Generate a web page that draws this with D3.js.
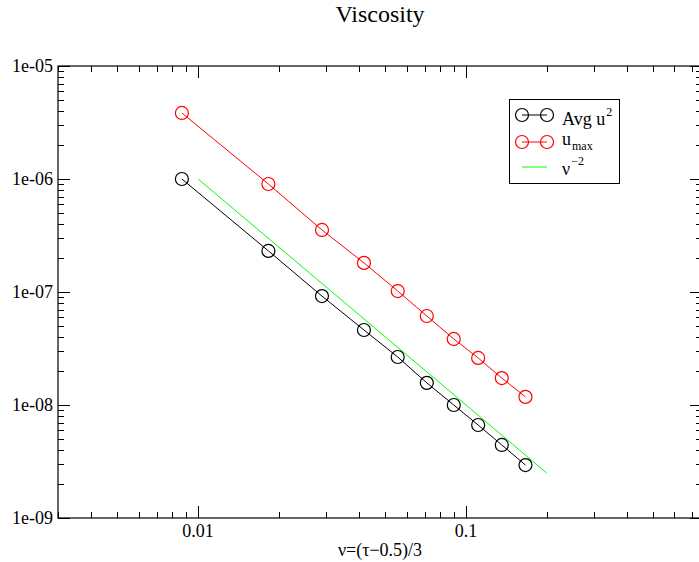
<!DOCTYPE html>
<html>
<head>
<meta charset="utf-8">
<script src="https://cdn.jsdelivr.net/npm/d3@7"></script>
<style>
    body { margin: 0; background: #fff; }
    text { font-family: "Liberation Serif", "DejaVu Serif", serif; fill: #000; }
</style>
</head>
<body>
<div id="chart"></div>
<script>
// data
var nu = [0.0087, 0.0183, 0.029, 0.0416, 0.0556, 0.0714, 0.09, 0.111, 0.136, 0.1667];
var avgU2 = [1.0e-6, 2.31e-7, 9.2e-8, 4.61e-8, 2.66e-8, 1.57e-8, 1.0e-8, 6.65e-9, 4.43e-9, 2.94e-9];
var uMax = [3.84e-6, 9.03e-7, 3.54e-7, 1.81e-7, 1.02e-7, 6.13e-8, 3.84e-8, 2.61e-8, 1.73e-8, 1.18e-8];
// reference slope nu^-2
var refNu = [0.01, 0.2];
var refVal = [1e-6, 2.5e-9];
var xTickLabels = ["0.01", "0.1"];
var yTickLabels = ["1e-09", "1e-08", "1e-07", "1e-06", "1e-05"];

var chart_width = 699;
var chart_height = 562;
// plot box (note: "top" is reserved on window, so use p-prefixed names)
var pLeft = 58, pRight = 702, pTop = 66, pBottom = 518;

var x = d3.scaleLog().domain([0.003, 0.76]).range([pLeft, pRight]);
var y = d3.scaleLog().domain([1e-9, 1e-5]).range([pBottom, pTop]);

var svg = d3.select("#chart")
        .append("svg")
        .attr("width", chart_width)
        .attr("height", chart_height);

//Frame
svg.append("rect")
        .attr("x", pLeft)
        .attr("y", pTop)
        .attr("width", pRight - pLeft)
        .attr("height", pBottom - pTop)
        .attr("fill", "none")
        .attr("stroke", "#000")
        .attr("stroke-width", 1.2);

function isMajor(v) {
    var l = Math.log10(v);
    return Math.abs(l - Math.round(l)) < 1e-6;
}

//Ticks, all pointing inward
var ticks = svg.append("g").attr("stroke", "#000").attr("stroke-width", 1);
x.ticks().filter(function (v) {
    return v >= 0.003 && v <= 0.76;
}).forEach(function (v) {
    var len = isMajor(v) ? 12 : 6;
    var px = Math.round(x(v)) + 0.5;
    ticks.append("line").attr("x1", px).attr("x2", px).attr("y1", pBottom).attr("y2", pBottom - len);
    ticks.append("line").attr("x1", px).attr("x2", px).attr("y1", pTop).attr("y2", pTop + len);
});
y.ticks().forEach(function (v) {
    var len = isMajor(v) ? 12 : 6;
    var py = Math.round(y(v)) + 0.5;
    ticks.append("line").attr("x1", pLeft).attr("x2", pLeft + len).attr("y1", py).attr("y2", py);
    ticks.append("line").attr("x1", pRight).attr("x2", pRight - len).attr("y1", py).attr("y2", py);
});

//Tick labels
var xMajors = x.ticks().filter(isMajor);
svg.selectAll("text.xlab")
        .data(xMajors)
        .enter()
        .append("text")
        .attr("class", "xlab")
        .attr("x", function (d) { return x(d); })
        .attr("y", pBottom + 19)
        .attr("text-anchor", "middle")
        .style("font-size", "18px")
        .text(function (d, i) { return xTickLabels[i]; });

var yMajors = y.ticks().filter(isMajor);
svg.selectAll("text.ylab")
        .data(yMajors)
        .enter()
        .append("text")
        .attr("class", "ylab")
        .attr("x", pLeft - 5)
        .attr("y", function (d) { return y(d) + 6; })
        .attr("text-anchor", "end")
        .style("font-size", "18px")
        .text(function (d, i) { return yTickLabels[i]; });

//Title and axis label
svg.append("text")
        .attr("x", (pLeft + pRight) / 2)
        .attr("y", 22)
        .attr("text-anchor", "middle")
        .style("font-size", "24px")
        .text("Viscosity");
svg.append("text")
        .attr("x", (pLeft + pRight) / 2)
        .attr("y", 556)
        .attr("text-anchor", "middle")
        .style("font-size", "18px")
        .text("ν=(τ−0.5)/3");

//Series
var line = d3.line()
        .x(function (d) { return x(d[0]); })
        .y(function (d) { return y(d[1]); });

function drawSeries(xs, ys, color, markers) {
    var pts = d3.zip(xs, ys);
    svg.append("path")
            .datum(pts)
            .attr("d", line)
            .attr("fill", "none")
            .attr("stroke", color)
            .attr("stroke-width", 1);
    if (markers) {
        svg.append("g").selectAll("circle")
                .data(pts)
                .enter()
                .append("circle")
                .attr("cx", function (d) { return x(d[0]); })
                .attr("cy", function (d) { return y(d[1]); })
                .attr("r", 6.5)
                .attr("fill", "none")
                .attr("stroke", color)
                .attr("stroke-width", 1.2);
    }
}
drawSeries(refNu, refVal, "#00ff00", false);
drawSeries(nu, avgU2, "#000000", true);
drawSeries(nu, uMax, "#ff0000", true);

// define legend
var legend = svg.append("g");
legend.append("rect")
        .attr("x", 509.5)
        .attr("y", 99.5)
        .attr("width", 110)
        .attr("height", 84)
        .attr("fill", "#fff")
        .attr("stroke", "#000")
        .attr("stroke-width", 1);

var entries = [
    {color: "#000", marker: true, my: 115, ty: 125, main: "Avg u", sub: "2", dy: -9},
    {color: "#ff0000", marker: true, my: 142, ty: 145, main: "u", sub: "max", dy: 5},
    {color: "#00ff00", marker: false, my: 167, ty: 175, main: "ν", sub: "−2", dy: -10}
];
entries.forEach(function (e) {
    legend.append("line")
            .attr("x1", 522).attr("x2", 547)
            .attr("y1", e.my).attr("y2", e.my)
            .attr("stroke", e.color)
            .attr("stroke-width", 1);
    if (e.marker) {
        [522, 547].forEach(function (cx) {
            legend.append("circle")
                    .attr("cx", cx).attr("cy", e.my)
                    .attr("r", 6.5)
                    .attr("fill", "none")
                    .attr("stroke", e.color)
                    .attr("stroke-width", 1.2);
        });
    }
    var t = legend.append("text")
            .attr("x", 562)
            .attr("y", e.ty)
            .style("font-size", "18px");
    t.append("tspan").text(e.main);
    t.append("tspan")
            .attr("dy", e.dy)
            .attr("dx", 1)
            .style("font-size", "12px")
            .text(e.sub);
});
</script>
</body>
</html>
